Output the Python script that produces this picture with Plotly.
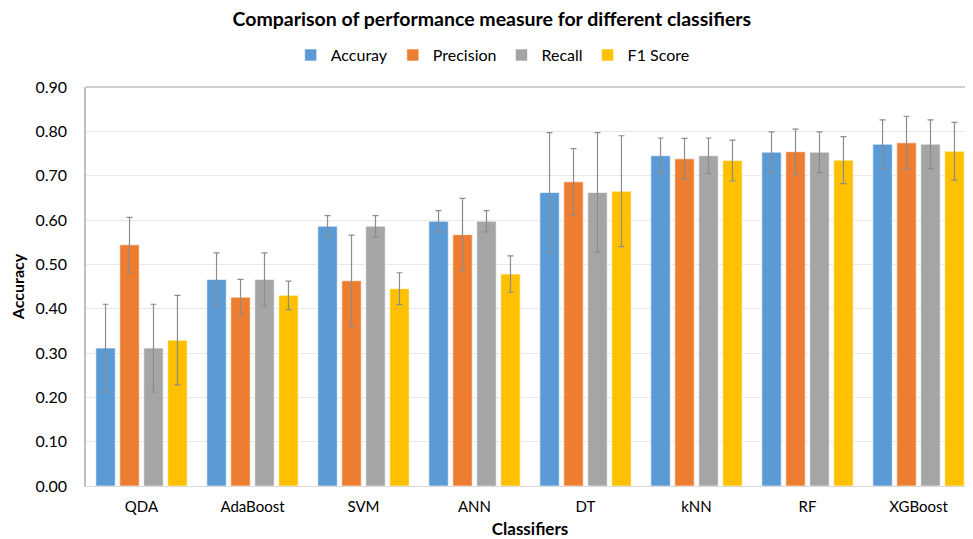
import plotly.graph_objects as go

classifiers = ["QDA", "AdaBoost", "SVM", "ANN", "DT", "kNN", "RF", "XGBoost"]

accuracy = [0.311, 0.466, 0.586, 0.597, 0.662, 0.745, 0.753, 0.771]
accuracy_err = [0.099, 0.060, 0.024, 0.024, 0.135, 0.040, 0.046, 0.055]

precision = [0.544, 0.426, 0.463, 0.567, 0.686, 0.738, 0.754, 0.774]
precision_err = [0.062, 0.040, 0.103, 0.082, 0.075, 0.046, 0.051, 0.060]

recall = [0.311, 0.466, 0.586, 0.597, 0.662, 0.745, 0.753, 0.771]
recall_err = [0.099, 0.060, 0.024, 0.024, 0.135, 0.040, 0.046, 0.055]

f1 = [0.329, 0.430, 0.445, 0.478, 0.665, 0.734, 0.735, 0.755]
f1_err = [0.101, 0.032, 0.036, 0.041, 0.125, 0.046, 0.053, 0.065]

series_names = ["Accuray", "Precision", "Recall", "F1 Score"]
colors = ["#5B9BD5", "#ED7D31", "#A5A5A5", "#FFC000"]

FONT = "Lato, 'Open Sans', sans-serif"

fig = go.Figure()
for name, vals, errs, col in zip(series_names,
                                 [accuracy, precision, recall, f1],
                                 [accuracy_err, precision_err, recall_err, f1_err],
                                 colors):
    fig.add_trace(go.Bar(
        name=name, x=classifiers, y=vals,
        marker=dict(color=col, line=dict(color="rgba(255,255,255,0.6)", width=1)),
        error_y=dict(type="data", array=errs, visible=True,
                     color="#8c8c8c", thickness=1.2, width=3),
    ))

fig.update_layout(
    width=973, height=531, autosize=False,
    paper_bgcolor="white", plot_bgcolor="white",
    barmode="group", bargap=0.136, bargroupgap=0.19,
    margin=dict(l=78, r=7, t=79, b=53, autoexpand=False),
    font=dict(family=FONT, color="#404040"),
    title=dict(text="<b>Comparison of performance measure for different classifiers</b>",
               x=0.457, xref="paper", xanchor="center",
               y=1 - 11 / 531, yref="container", yanchor="middle",
               font=dict(size=19.5, color="#000000", family=FONT)),
    legend=dict(orientation="h", x=0.458, xanchor="center",
                y=1.08, yanchor="middle",
                font=dict(size=16, color="#000000", family=FONT),
                traceorder="normal"),
    xaxis=dict(
        title=dict(text="<b>Classifiers</b>", font=dict(size=17, color="#000000"), standoff=9),
        tickfont=dict(size=15, color="#000000"), tickangle=0, ticklabelstandoff=7,
        showline=True, linecolor="#d9d9d9", linewidth=1,
        mirror=False, ticks="",
    ),
    yaxis=dict(
        title=dict(text="<b>Accuracy</b>", font=dict(size=16, color="#000000"), standoff=8),
        range=[0, 0.9], dtick=0.1, tickformat=".2f",
        tickfont=dict(size=16, color="#000000"),
        showgrid=True, gridcolor="#e8e8e8", gridwidth=1,
        showline=True, linecolor="#bfbfbf", linewidth=1.5,
        zeroline=False, ticks="", ticklabelstandoff=14,
    ),
)
fig.add_shape(type="line", xref="paper", yref="paper", x0=0, x1=1, y0=1, y1=1,
              line=dict(color="#bfbfbf", width=1.5))

fig.write_html("out.html")
